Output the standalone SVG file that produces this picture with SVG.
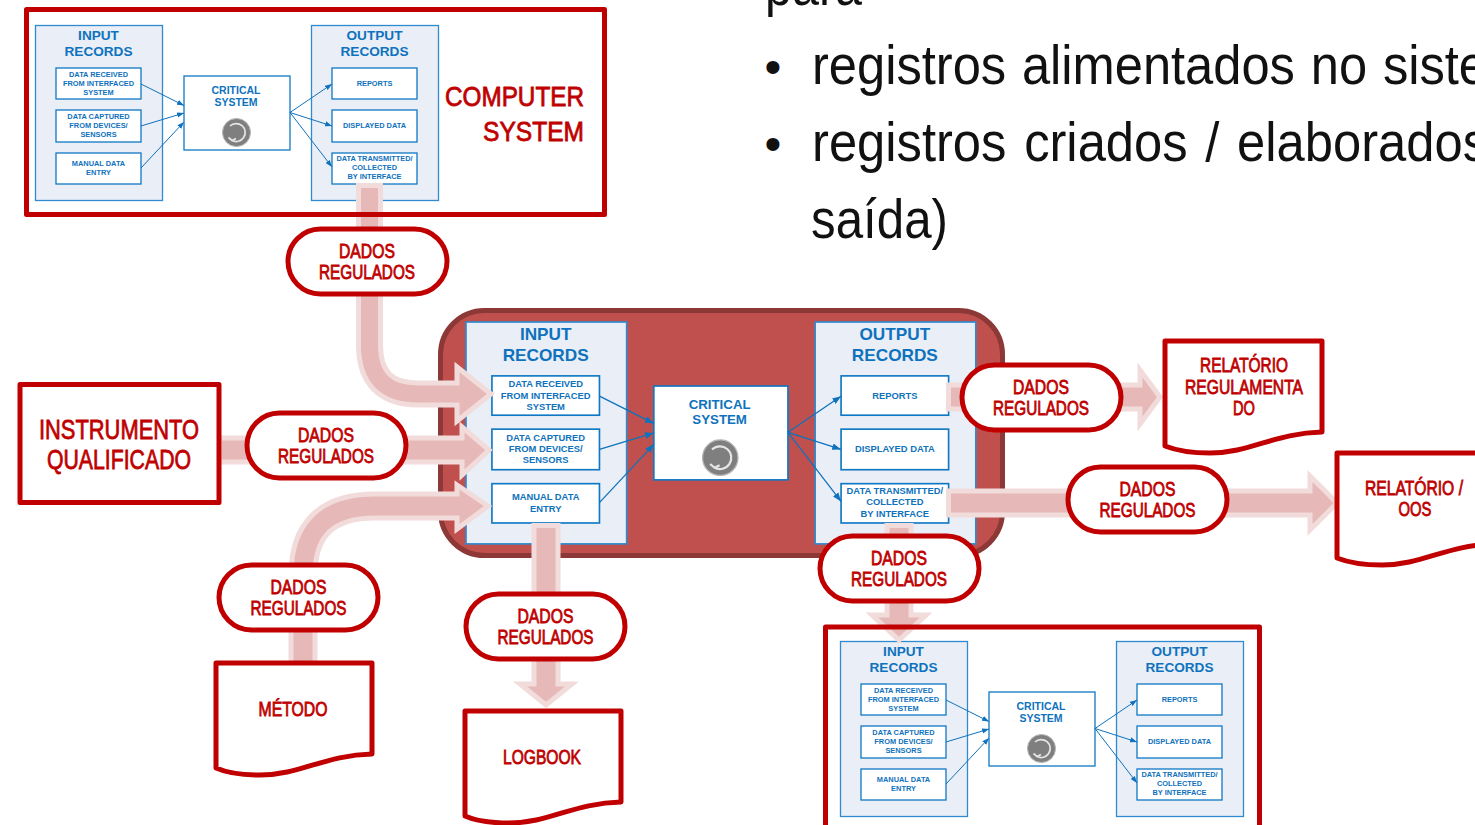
<svg xmlns="http://www.w3.org/2000/svg" width="1475" height="825" viewBox="0 0 1475 825">
<style>
text{font-family:"Liberation Sans",Arial,sans-serif}
.body{font-size:56px;fill:#111}
.r{font-size:19.5px;fill:#c00000;stroke:#c00000;stroke-width:.8;text-anchor:middle}
.rl{font-size:28px;fill:#c00000;stroke:#c00000;stroke-width:.8;text-anchor:middle}
.frame{fill:none;stroke:#c00000;stroke-width:5;stroke-linejoin:round}
.doc,.pill{fill:#fff;stroke:#c00000;stroke-width:5;stroke-linejoin:round}
.panel{fill:#e9eef7;stroke:#2f8ad0;stroke-width:1.3}
.box{fill:#fff;stroke:#0f78c4;stroke-width:1.3}
.t{font-size:13.6px;font-weight:700;fill:#0f72bd;text-anchor:middle}
.c{font-size:10.5px;font-weight:700;fill:#0f72bd;text-anchor:middle}
.s{font-size:7.4px;font-weight:700;fill:#0f72bd;text-anchor:middle}
.ic{fill:#7f7f7f;stroke:#b5b5b5;stroke-width:1}
.ia{fill:none;stroke:#e6e6e6;stroke-width:1.7}
.l{fill:none;stroke:#0f72bd;stroke-width:1;marker-end:url(#a)}
.so{fill:none;stroke:#f2dcdb;stroke-width:29}
.si{fill:none;stroke:#e6b8b7;stroke-width:19}
.hd{fill:#e6b8b7;stroke:#f2dcdb;stroke-width:5;stroke-linejoin:miter;stroke-miterlimit:10}
</style>
<defs>
<marker id="a" viewBox="0 0 8 6" refX="8" refY="3" markerWidth="7" markerHeight="5.5" orient="auto" markerUnits="userSpaceOnUse"><path d="M0,0L8,3L0,6Z" fill="#0f72bd"/></marker>
</defs>

<g id="slide-text">
<text class="body" x="765" y="5" textLength="97" lengthAdjust="spacingAndGlyphs">para</text>
<text class="body" x="773" y="83" text-anchor="middle" style="font-size:48px">•</text>
<text class="body" x="812" y="84" textLength="675" lengthAdjust="spacingAndGlyphs" style="word-spacing:2px">registros alimentados no siste</text>
<text class="body" x="773" y="160" text-anchor="middle" style="font-size:48px">•</text>
<text class="body" x="812" y="161" textLength="676" lengthAdjust="spacingAndGlyphs" style="word-spacing:4px">registros criados / elaborados</text>
<text class="body" x="811" y="238" textLength="137" lengthAdjust="spacingAndGlyphs">saída)</text>
</g>

<g id="central-system-background"><rect x="440.5" y="310.5" width="562" height="245" rx="44" fill="#c0504d" stroke="#8c3836" stroke-width="5"/></g>

<!-- top records diagram -->
<g id="records-top">
<g id="top-input"><rect class="panel" x="35.5" y="25.5" width="127" height="175"/><text class="t" x="98.5" y="40">INPUT</text><text class="t" x="98.5" y="56">RECORDS</text></g>
<g id="top-output"><rect class="panel" x="311.5" y="25.5" width="127" height="175"/><text class="t" x="374.5" y="40">OUTPUT</text><text class="t" x="374.5" y="56">RECORDS</text></g>
<g id="top-in1"><rect class="box" x="56" y="68" width="85" height="31"/><text class="s" x="98.5" y="77">DATA RECEIVED</text><text class="s" x="98.5" y="86">FROM INTERFACED</text><text class="s" x="98.5" y="95">SYSTEM</text></g>
<g id="top-in2"><rect class="box" x="56" y="110" width="85" height="32"/><text class="s" x="98.5" y="119">DATA CAPTURED</text><text class="s" x="98.5" y="128">FROM DEVICES/</text><text class="s" x="98.5" y="137">SENSORS</text></g>
<g id="top-in3"><rect class="box" x="56" y="153" width="85" height="31"/><text class="s" x="98.5" y="166">MANUAL DATA</text><text class="s" x="98.5" y="175">ENTRY</text></g>
<g id="top-critical"><rect class="box" x="184" y="76" width="106" height="74"/><text class="c" x="236" y="94">CRITICAL</text><text class="c" x="236" y="106">SYSTEM</text><circle class="ic" cx="236.5" cy="132.5" r="14"/><path class="ia" d="M230,126A9,9 0 1 1 232,140.500M228.500,137.500L232,140.500L236,138.500"/></g>
<g id="top-out1"><rect class="box" x="332" y="68" width="85" height="31"/><text class="s" x="374.500" y="86">REPORTS</text></g>
<g id="top-out2"><rect class="box" x="332" y="110" width="85" height="32"/><text class="s" x="374.500" y="128">DISPLAYED DATA</text></g>
<g id="top-out3"><rect class="box" x="332" y="153" width="85" height="31"/><text class="s" x="374.500" y="161">DATA TRANSMITTED/</text><text class="s" x="374.500" y="170">COLLECTED</text><text class="s" x="374.500" y="179">BY INTERFACE</text></g>
<g id="top-connectors"><path class="l" d="M141,84L184,105.500"/><path class="l" d="M141,126L184,113"/><path class="l" d="M141,168L184,122"/><path class="l" d="M290,112.500L332,84"/><path class="l" d="M290,112.500L332,126"/><path class="l" d="M290,112.500L332,167"/></g>
</g>

<!-- central records diagram -->
<g id="records-central" transform="translate(466 322) scale(1.265 1.268) translate(-35.500 -25.500)">
<g id="mid-input"><rect class="panel" x="35.5" y="25.5" width="127" height="175"/><text class="t" x="98.5" y="40">INPUT</text><text class="t" x="98.5" y="56">RECORDS</text></g>
<g id="mid-output"><rect class="panel" x="311.5" y="25.5" width="127" height="175"/><text class="t" x="374.5" y="40">OUTPUT</text><text class="t" x="374.5" y="56">RECORDS</text></g>
<g id="mid-in1"><rect class="box" x="56" y="68" width="85" height="31"/><text class="s" x="98.5" y="77">DATA RECEIVED</text><text class="s" x="98.5" y="86">FROM INTERFACED</text><text class="s" x="98.5" y="95">SYSTEM</text></g>
<g id="mid-in2"><rect class="box" x="56" y="110" width="85" height="32"/><text class="s" x="98.5" y="119">DATA CAPTURED</text><text class="s" x="98.5" y="128">FROM DEVICES/</text><text class="s" x="98.5" y="137">SENSORS</text></g>
<g id="mid-in3"><rect class="box" x="56" y="153" width="85" height="31"/><text class="s" x="98.5" y="166">MANUAL DATA</text><text class="s" x="98.5" y="175">ENTRY</text></g>
<g id="mid-critical"><rect class="box" x="184" y="76" width="106" height="74"/><text class="c" x="236" y="94">CRITICAL</text><text class="c" x="236" y="106">SYSTEM</text><circle class="ic" cx="236.5" cy="132.5" r="14"/><path class="ia" d="M230,126A9,9 0 1 1 232,140.500M228.500,137.500L232,140.500L236,138.500"/></g>
<g id="mid-out1"><rect class="box" x="332" y="68" width="85" height="31"/><text class="s" x="374.500" y="86">REPORTS</text></g>
<g id="mid-out2"><rect class="box" x="332" y="110" width="85" height="32"/><text class="s" x="374.500" y="128">DISPLAYED DATA</text></g>
<g id="mid-out3"><rect class="box" x="332" y="153" width="85" height="31"/><text class="s" x="374.500" y="161">DATA TRANSMITTED/</text><text class="s" x="374.500" y="170">COLLECTED</text><text class="s" x="374.500" y="179">BY INTERFACE</text></g>
<g id="mid-connectors"><path class="l" d="M141,84L184,105.500"/><path class="l" d="M141,126L184,113"/><path class="l" d="M141,168L184,122"/><path class="l" d="M290,112.500L332,84"/><path class="l" d="M290,112.500L332,126"/><path class="l" d="M290,112.500L332,167"/></g>
</g>

<!-- bottom records diagram -->
<g id="records-bottom" transform="translate(805 616)">
<g id="bot-input"><rect class="panel" x="35.5" y="25.5" width="127" height="175"/><text class="t" x="98.5" y="40">INPUT</text><text class="t" x="98.5" y="56">RECORDS</text></g>
<g id="bot-output"><rect class="panel" x="311.5" y="25.5" width="127" height="175"/><text class="t" x="374.5" y="40">OUTPUT</text><text class="t" x="374.5" y="56">RECORDS</text></g>
<g id="bot-in1"><rect class="box" x="56" y="68" width="85" height="31"/><text class="s" x="98.5" y="77">DATA RECEIVED</text><text class="s" x="98.5" y="86">FROM INTERFACED</text><text class="s" x="98.5" y="95">SYSTEM</text></g>
<g id="bot-in2"><rect class="box" x="56" y="110" width="85" height="32"/><text class="s" x="98.5" y="119">DATA CAPTURED</text><text class="s" x="98.5" y="128">FROM DEVICES/</text><text class="s" x="98.5" y="137">SENSORS</text></g>
<g id="bot-in3"><rect class="box" x="56" y="153" width="85" height="31"/><text class="s" x="98.5" y="166">MANUAL DATA</text><text class="s" x="98.5" y="175">ENTRY</text></g>
<g id="bot-critical"><rect class="box" x="184" y="76" width="106" height="74"/><text class="c" x="236" y="94">CRITICAL</text><text class="c" x="236" y="106">SYSTEM</text><circle class="ic" cx="236.5" cy="132.5" r="14"/><path class="ia" d="M230,126A9,9 0 1 1 232,140.500M228.500,137.500L232,140.500L236,138.500"/></g>
<g id="bot-out1"><rect class="box" x="332" y="68" width="85" height="31"/><text class="s" x="374.500" y="86">REPORTS</text></g>
<g id="bot-out2"><rect class="box" x="332" y="110" width="85" height="32"/><text class="s" x="374.500" y="128">DISPLAYED DATA</text></g>
<g id="bot-out3"><rect class="box" x="332" y="153" width="85" height="31"/><text class="s" x="374.500" y="161">DATA TRANSMITTED/</text><text class="s" x="374.500" y="170">COLLECTED</text><text class="s" x="374.500" y="179">BY INTERFACE</text></g>
<g id="bot-connectors"><path class="l" d="M141,84L184,105.500"/><path class="l" d="M141,126L184,113"/><path class="l" d="M141,168L184,122"/><path class="l" d="M290,112.500L332,84"/><path class="l" d="M290,112.500L332,126"/><path class="l" d="M290,112.500L332,167"/></g>
</g>

<!-- block arrows -->
<g id="connectors">
<g id="arrow-computer"><path class="so" style="stroke-width:27" d="M369.500,183V345Q369.500,394 418,394H458"/><polygon class="hd" points="457,367 491,394 457,421"/><path class="si" style="stroke-width:17" d="M369.500,188V345Q369.500,394 418,394H462"/></g>
<g id="arrow-instrument"><path class="so" d="M219,450H462"/><polygon class="hd" points="462,427 489,450 462,475"/><path class="si" d="M222,450H466"/></g>
<g id="arrow-method"><path class="so" d="M303,662V575Q303,506 375,506H458"/><polygon class="hd" points="457,485 488,506 457,529"/><path class="si" d="M303,662V575Q303,506 375,506H462"/></g>
<g id="arrow-logbook"><path class="so" d="M546,523V684"/><polygon class="hd" points="520,684 572,684 546,705"/><path class="si" d="M546,528V688"/></g>
<g id="arrow-reports"><path class="so" d="M946,397H1140"/><polygon class="hd" points="1140,370 1160,397 1140,424"/><path class="si" d="M951,397H1143"/></g>
<g id="arrow-transmitted"><path class="so" d="M946,503H1310"/><polygon class="hd" points="1310,476 1337,503 1310,530"/><path class="si" d="M951,503H1314"/></g>
<g id="arrow-bottom"><path class="so" d="M899,523V615"/><polygon class="hd" points="872,615 926,615 899,640"/><path class="si" d="M899,528V619"/></g>
</g>

<g id="computer-system"><rect class="frame" x="26.500" y="9.500" width="578" height="205"/><text class="rl" x="514.500" y="106" textLength="139" lengthAdjust="spacingAndGlyphs">COMPUTER</text><text class="rl" x="533.500" y="141" textLength="101" lengthAdjust="spacingAndGlyphs">SYSTEM</text></g>
<g id="bottom-system"><rect class="frame" x="825.500" y="627" width="434" height="220"/></g>
<g id="instrumento"><rect class="doc" x="20" y="384.500" width="199" height="118"/><text class="rl" x="119" y="439" textLength="160" lengthAdjust="spacingAndGlyphs">INSTRUMENTO</text><text class="rl" x="119" y="469" textLength="144" lengthAdjust="spacingAndGlyphs">QUALIFICADO</text></g>

<g id="doc-metodo"><path class="doc" d="M216,663H372V754C325,755 300,775 260,775C240,775 225,772 216,768Z"/><text class="r" x="293" y="716" textLength="69" lengthAdjust="spacingAndGlyphs">MÉTODO</text></g>
<g id="doc-logbook"><path class="doc" d="M465,711H621V802C574,803 549,823 509,823C489,823 474,820 465,816Z"/><text class="r" x="542" y="764" textLength="78" lengthAdjust="spacingAndGlyphs">LOGBOOK</text></g>
<g id="doc-relatorio"><path class="doc" d="M1165,341H1322V432C1275,433 1250,453 1210,453C1190,453 1175,450 1165,446Z"/><text class="r" x="1244" y="372" textLength="88" lengthAdjust="spacingAndGlyphs">RELATÓRIO</text><text class="r" x="1244" y="394" textLength="118" lengthAdjust="spacingAndGlyphs">REGULAMENTA</text><text class="r" x="1244" y="415" textLength="22" lengthAdjust="spacingAndGlyphs">DO</text></g>
<g id="doc-oos"><path class="doc" d="M1337,453H1494V544C1447,545 1422,565 1382,565C1362,565 1347,562 1337,558Z"/><text class="r" x="1414" y="495" textLength="98" lengthAdjust="spacingAndGlyphs">RELATÓRIO /</text><text class="r" x="1415" y="516" textLength="33" lengthAdjust="spacingAndGlyphs">OOS</text></g>

<g id="pill-1"><rect class="pill" x="288" y="229" width="159" height="65" rx="32.500"/><text class="r" x="367" y="258" textLength="56" lengthAdjust="spacingAndGlyphs">DADOS</text><text class="r" x="367" y="279" textLength="96" lengthAdjust="spacingAndGlyphs">REGULADOS</text></g>
<g id="pill-2"><rect class="pill" x="247" y="413" width="159" height="65" rx="32.500"/><text class="r" x="326" y="442" textLength="56" lengthAdjust="spacingAndGlyphs">DADOS</text><text class="r" x="326" y="463" textLength="96" lengthAdjust="spacingAndGlyphs">REGULADOS</text></g>
<g id="pill-3"><rect class="pill" x="219" y="565" width="159" height="65" rx="32.500"/><text class="r" x="298.500" y="594" textLength="56" lengthAdjust="spacingAndGlyphs">DADOS</text><text class="r" x="298.500" y="615" textLength="96" lengthAdjust="spacingAndGlyphs">REGULADOS</text></g>
<g id="pill-4"><rect class="pill" x="466" y="594" width="159" height="65" rx="32.500"/><text class="r" x="545.500" y="623" textLength="56" lengthAdjust="spacingAndGlyphs">DADOS</text><text class="r" x="545.500" y="644" textLength="96" lengthAdjust="spacingAndGlyphs">REGULADOS</text></g>
<g id="pill-5"><rect class="pill" x="820" y="536" width="159" height="65" rx="32.500"/><text class="r" x="899" y="565" textLength="56" lengthAdjust="spacingAndGlyphs">DADOS</text><text class="r" x="899" y="586" textLength="96" lengthAdjust="spacingAndGlyphs">REGULADOS</text></g>
<g id="pill-6"><rect class="pill" x="962" y="365" width="159" height="65" rx="32.500"/><text class="r" x="1041" y="394" textLength="56" lengthAdjust="spacingAndGlyphs">DADOS</text><text class="r" x="1041" y="415" textLength="96" lengthAdjust="spacingAndGlyphs">REGULADOS</text></g>
<g id="pill-7"><rect class="pill" x="1068" y="467" width="159" height="65" rx="32.500"/><text class="r" x="1147.500" y="496" textLength="56" lengthAdjust="spacingAndGlyphs">DADOS</text><text class="r" x="1147.500" y="517" textLength="96" lengthAdjust="spacingAndGlyphs">REGULADOS</text></g>
</svg>
